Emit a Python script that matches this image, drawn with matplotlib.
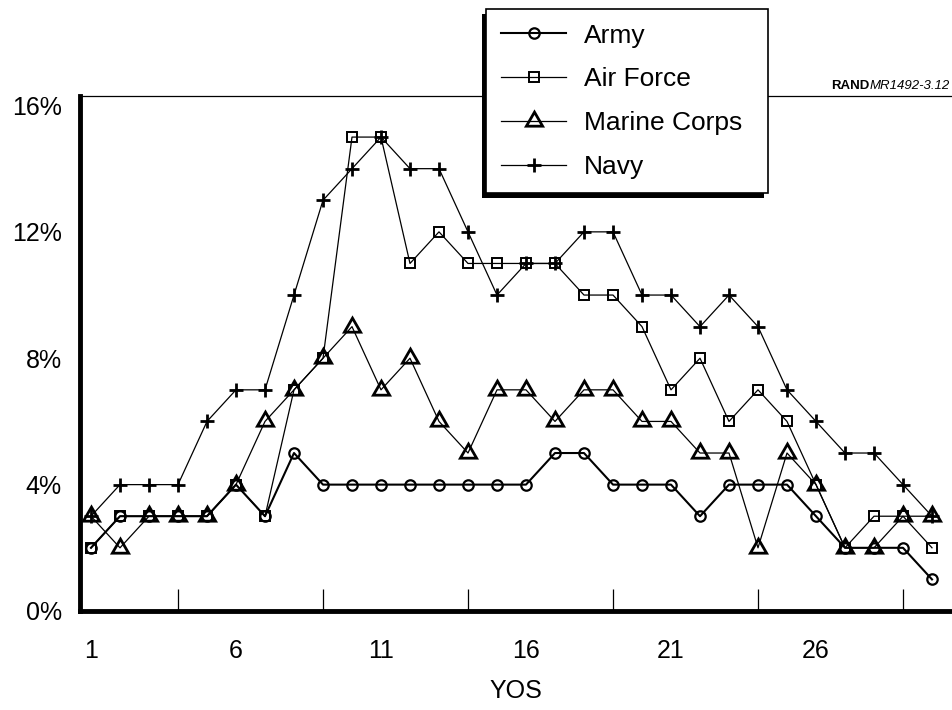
import matplotlib.pyplot as plt
from matplotlib.patches import Rectangle

plt.rcParams['font.family'] = ['Liberation Sans', 'DejaVu Sans']

# Dados (percentual por anos de servico)
yos = [1, 2, 3, 4, 5, 6, 7, 8, 9, 10, 11, 12, 13, 14, 15,
       16, 17, 18, 19, 20, 21, 22, 23, 24, 25, 26, 27, 28, 29, 30]
army = [2, 3, 3, 3, 3, 4, 3, 5, 4, 4, 4, 4, 4, 4, 4,
        4, 5, 5, 4, 4, 4, 3, 4, 4, 4, 3, 2, 2, 2, 1]
air_force = [2, 3, 3, 3, 3, 4, 3, 7, 8, 15, 15, 11, 12, 11, 11,
             11, 11, 10, 10, 9, 7, 8, 6, 7, 6, 4, 2, 3, 3, 2]
marine_corps = [3, 2, 3, 3, 3, 4, 6, 7, 8, 9, 7, 8, 6, 5, 7,
                7, 6, 7, 7, 6, 6, 5, 5, 2, 5, 4, 2, 2, 3, 3]
navy = [3, 4, 4, 4, 6, 7, 7, 10, 13, 14, 15, 14, 14, 12, 10,
        11, 11, 12, 12, 10, 10, 9, 10, 9, 7, 6, 5, 5, 4, 3]

x_labels = [1, 6, 11, 16, 21, 26]
x_marks = [4, 9, 14, 19, 24, 29]
y_labels = [0, 4, 8, 12, 16]
y_marks = [4, 8, 12]

W, H = 952, 710
fig = plt.figure(figsize=(W / 100, H / 100), dpi=100)
ax = fig.add_axes([80 / W, 99 / H, 872 / W, 515 / H])

ax.plot(yos, army, color='black', lw=1.5, marker='o', ms=7.5, mew=1.6,
        mfc='none', label='Army')
ax.plot(yos, air_force, color='black', lw=0.9, marker='s', ms=6.8, mew=1.4,
        mfc='none', label='Air Force')
ax.plot(yos, marine_corps, color='black', lw=0.9, marker=(3, 0, 0), ms=13.5,
        mew=2, mfc='none', label='Marine Corps')
ax.plot(yos, navy, color='black', lw=0.9, marker='+', ms=10, mew=2,
        label='Navy')

ax.set_xlim(1 - 11 / 29, 1 + 861 / 29)
ax.set_ylim(0, 16.3)

# Eixos
ax.spines['left'].set_linewidth(3.5)
ax.spines['bottom'].set_linewidth(3.5)
ax.spines['top'].set_linewidth(0.9)
ax.spines['right'].set_visible(False)

ax.set_xticks(x_labels)
ax.set_xticklabels([str(v) for v in x_labels])
ax.set_xticks(x_marks, minor=True)
ax.tick_params(axis='x', which='major', length=0, pad=20, labelsize=18)
ax.tick_params(axis='x', which='minor', direction='in', length=16, width=0.9)

ax.set_yticks(y_labels)
ax.set_yticklabels([f'{v}%' for v in y_labels])
ax.set_yticks(y_marks, minor=True)
ax.tick_params(axis='y', which='major', length=0, pad=13, labelsize=18)
ax.tick_params(axis='y', which='minor', direction='in', length=16, width=0.9)

ax.set_xlabel('YOS', fontsize=18, labelpad=12)

# Legenda com sombra preta
leg = fig.legend(loc='upper left', bbox_to_anchor=(486 / W, 1 - 9 / H, 282 / W, 0),
                 mode='expand', borderaxespad=0, fontsize=19, frameon=True,
                 fancybox=False, edgecolor='black', framealpha=1,
                 handlelength=2.5, handletextpad=0.65, labelspacing=0.75,
                 borderpad=0.55)
leg.get_frame().set_linewidth(1.2)
leg.set_zorder(5)

t = fig.text(950 / W, 1 - 89 / H, 'MR1492-3.12', ha='right', va='baseline',
             fontsize=9.5, style='italic')
ax.annotate('RAND', xy=(0, 0), xycoords=t, ha='right', va='bottom',
            fontsize=9.5, fontweight='bold', annotation_clip=False)

fig.canvas.draw()
bb = leg.get_window_extent().transformed(fig.transFigure.inverted())
shadow = Rectangle((bb.x0 - 4 / W, bb.y0 - 5 / H), bb.width, bb.height,
                   transform=fig.transFigure, facecolor='black',
                   edgecolor='none', zorder=4.9)
fig.add_artist(shadow)

fig.savefig('out.png', dpi=100)
